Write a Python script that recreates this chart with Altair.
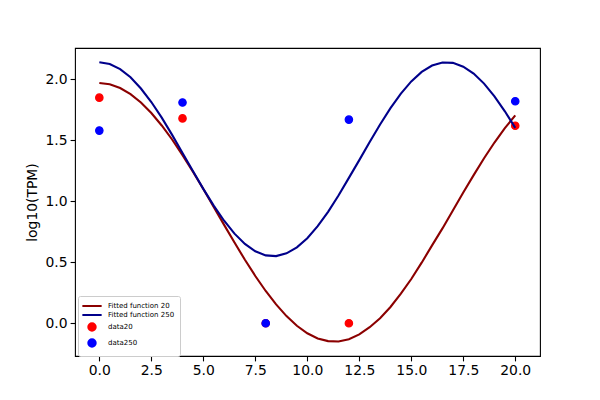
import altair as alt
import pandas as pd

# scatter data
pt_x = [0, 4, 8, 12, 20]
data20 = [1.85, 1.68, 0.0, 0.0, 1.62]
data250 = [1.58, 1.81, 0.0, 1.67, 1.82]

# fitted curves
fit_x = [0, 0.5, 1, 1.5, 2, 2.5, 3, 3.5, 4, 4.5, 5, 5.5, 6, 6.5, 7, 7.5, 8, 8.5, 9, 9.5,
         10, 10.5, 11, 11.5, 12, 12.5, 13, 13.5, 14, 14.5, 15, 15.5, 16, 16.5, 17, 17.5,
         18, 18.5, 19, 19.5, 20]
fit20 = [1.970, 1.960, 1.929, 1.879, 1.810, 1.724, 1.622, 1.507, 1.379, 1.243, 1.101,
         0.954, 0.807, 0.662, 0.521, 0.388, 0.265, 0.155, 0.059, -0.020, -0.082, -0.124,
         -0.146, -0.149, -0.130, -0.091, -0.032, 0.042, 0.134, 0.243, 0.363, 0.497,
         0.639, 0.778, 0.925, 1.072, 1.215, 1.353, 1.482, 1.600, 1.705]
fit250 = [2.140, 2.126, 2.084, 2.017, 1.925, 1.814, 1.686, 1.545, 1.397, 1.248, 1.102,
          0.965, 0.841, 0.735, 0.651, 0.590, 0.557, 0.551, 0.574, 0.623, 0.698, 0.796,
          0.914, 1.048, 1.192, 1.338, 1.487, 1.630, 1.764, 1.883, 1.983, 2.061, 2.113,
          2.138, 2.135, 2.104, 2.047, 1.965, 1.860, 1.738, 1.602]

names = ["Fitted function 20", "Fitted function 250", "data20", "data250"]
stroke_cols = ["#8b0000", "#00008b", "#ff0000", "#0000ff"]
fill_cols = ["#8b0000", "#00008b", "#ff0000", "#0000ff"]
line_sym = "M-2.6,0L2.6,0"
shapes = [line_sym, line_sym, "circle", "circle"]

x_ticks = [0, 2.5, 5, 7.5, 10, 12.5, 15, 17.5, 20]
y_ticks = [0, 0.5, 1.0, 1.5, 2.0]

lines = pd.DataFrame({
    "x": fit_x + fit_x,
    "y": fit20 + fit250,
    "series": [names[0]] * len(fit_x) + [names[1]] * len(fit_x),
})
pts = pd.DataFrame({
    "x": pt_x + pt_x,
    "y": data20 + data250,
    "series": [names[2]] * len(pt_x) + [names[3]] * len(pt_x),
})

xs = alt.Scale(domain=[-1.17, 21.19], nice=False, zero=False)
ys = alt.Scale(domain=[-0.268, 2.257], nice=False, zero=False)
xa = alt.Axis(values=x_ticks, format=".1f", title=None)
ya = alt.Axis(values=y_ticks, format=".1f", title="log10(TPM)")

leg = alt.Legend(orient="none", legendX=3, legendY=248, title=None,
                 labelFontSize=7, labelFont="DejaVu Sans", labelColor="black",
                 symbolStrokeWidth=2, symbolSize=55, padding=5, symbolOffset=4,
                 strokeColor="#cccccc", fillColor="white", cornerRadius=2,
                 rowPadding=0, labelOffset=11)

stroke_enc = alt.Stroke("series:N", scale=alt.Scale(domain=names, range=stroke_cols), legend=leg)

points = alt.Chart(pts).mark_point(filled=True, size=55, strokeWidth=1.2, opacity=1).encode(
    x=alt.X("x:Q", scale=xs, axis=xa),
    y=alt.Y("y:Q", scale=ys, axis=ya),
    stroke=stroke_enc,
    fill=alt.Fill("series:N", scale=alt.Scale(domain=names, range=fill_cols), legend=leg),
    shape=alt.Shape("series:N", scale=alt.Scale(domain=names, range=shapes), legend=leg),
)

curves = alt.Chart(lines).mark_line(strokeWidth=2.1).encode(
    x=alt.X("x:Q", scale=xs, axis=xa),
    y=alt.Y("y:Q", scale=ys, axis=ya),
    stroke=stroke_enc,
    detail="series:N",
)

chart = alt.layer(points, curves).properties(
    width=465, height=308,
    background="white",
    autosize=alt.AutoSizeParams(type="none"),
    padding={"left": 67, "top": 40, "right": 50, "bottom": 36},
).configure_view(
    stroke="black", strokeWidth=1.1
).configure_axis(
    domain=False, grid=False, tickColor="black", tickSize=4.9, tickWidth=1.1,
    labelColor="black", labelFont="DejaVu Sans", labelFontSize=13.9, labelPadding=3,
    titleFont="DejaVu Sans", titleFontSize=13.9, titleColor="black",
    titleFontWeight="normal", titlePadding=6,
)

chart.save("out.html", embed_options={"renderer": "svg", "actions": False})
